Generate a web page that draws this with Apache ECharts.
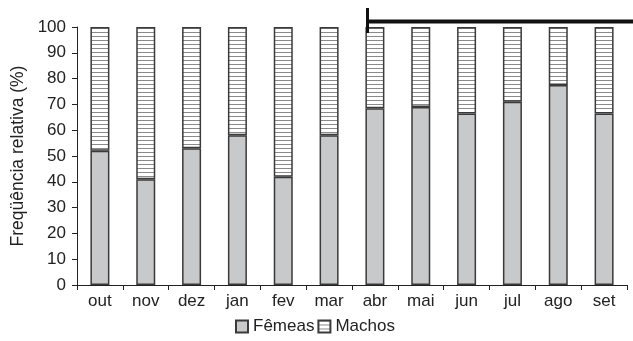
<!DOCTYPE html>
<html><head><meta charset="utf-8">
<script src="https://cdn.jsdelivr.net/npm/echarts@6/dist/echarts.min.js"></script>
<style>html,body{margin:0;padding:0;background:#fff}#c{width:633px;height:341px}</style>
</head><body><div id="c"></div>
<script>
var categories = ['out','nov','dez','jan','fev','mar','abr','mai','jun','jul','ago','set'];
var femeas = [52, 41, 53, 58, 42, 58, 68.5, 69, 66.5, 71, 77.5, 66.5];
var machos = femeas.map(function(v){ return +(100 - v).toFixed(1); });
var yTicks = [0,10,20,30,40,50,60,70,80,90,100];

function stripes(){
  var c = document.createElement('canvas'); c.width = 8; c.height = 4;
  var g = c.getContext('2d');
  g.fillStyle = '#ffffff'; g.fillRect(0,0,8,4);
  g.fillStyle = '#8a8a8a'; g.fillRect(0,0,8,1);
  return c;
}
var pat = {image: stripes(), repeat: 'repeat'};
var font = 'Liberation Sans, Arial, sans-serif';
var chart = echarts.init(document.getElementById('c'));
chart.setOption({
  animation: false,
  grid: {left: 77, right: 6, top: 27, bottom: 56},
  legend: {
    bottom: 1, left: 230, itemWidth: 12, itemHeight: 12, itemGap: 3, icon: 'rect',
    textStyle: {fontFamily: font, fontSize: 17, color: '#222'},
    data: ['Fêmeas','Machos']
  },
  xAxis: {
    type: 'category', data: categories,
    axisLine: {lineStyle: {color: '#222', width: 1}},
    axisTick: {show: true, length: 5, lineStyle: {color: '#222'}},
    axisLabel: {fontFamily: font, fontSize: 17, color: '#222', margin: 8}
  },
  yAxis: {
    type: 'value', min: 0, max: 100, interval: 10,
    name: 'Freqüência relativa (%)', nameLocation: 'middle', nameGap: 43,
    nameTextStyle: {fontFamily: font, fontSize: 17.5, color: '#222'},
    axisLine: {show: true, lineStyle: {color: '#222'}},
    axisTick: {show: true, length: 5, lineStyle: {color: '#222'}},
    axisLabel: {fontFamily: font, fontSize: 17, color: '#222', margin: 11,
      formatter: function(v){ return yTicks.indexOf(v) >= 0 ? String(v) : ''; }},
    splitLine: {show: false}
  },
  series: [
    {name: 'Fêmeas', type: 'bar', stack: 's', data: femeas, barWidth: 19,
     itemStyle: {color: '#c8c9cb', borderColor: '#3a3a3a', borderWidth: 1.5}},
    {name: 'Machos', type: 'bar', stack: 's', data: machos, barWidth: 19,
     itemStyle: {color: pat, borderColor: '#3a3a3a', borderWidth: 1.5}}
  ],
  graphic: [
    {type: 'line', shape: {x1: 367, y1: 21.5, x2: 633, y2: 21.5}, style: {stroke: '#111', lineWidth: 4}, z: 100},
    {type: 'line', shape: {x1: 367.5, y1: 8, x2: 367.5, y2: 33}, style: {stroke: '#111', lineWidth: 3}, z: 100}
  ]
});
</script></body></html>
